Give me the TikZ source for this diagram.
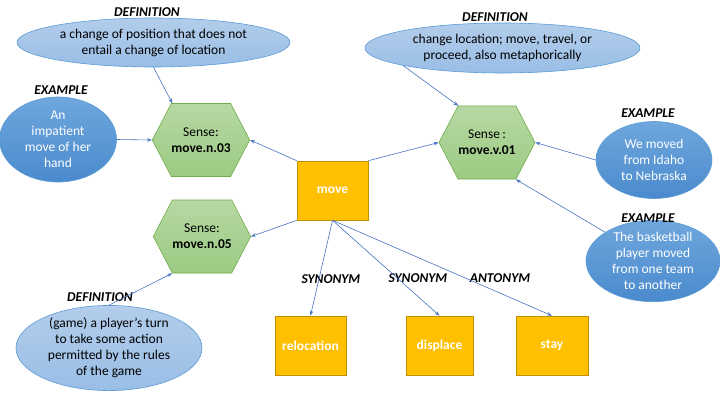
\documentclass[tikz,border=0pt]{standalone}
\usepackage{fontspec}
\setmainfont{Carlito}
\usetikzlibrary{shapes.geometric,shapes.symbols,arrows.meta}
\definecolor{arrblue}{HTML}{4472C4}
\definecolor{hexborder}{HTML}{70AD47}
\definecolor{hextop}{HTML}{B7D8A3}
\definecolor{hexbot}{HTML}{9CCB83}
\definecolor{deftop}{HTML}{B3CDEB}
\definecolor{defbot}{HTML}{99BEE6}
\definecolor{exmtop}{HTML}{6FA7DD}
\definecolor{exmbot}{HTML}{4A8ACD}
\definecolor{elborder}{HTML}{5B9BD5}
\definecolor{boxfill}{HTML}{FFC000}
\definecolor{boxborder}{HTML}{BF9000}
\tikzset{
  every node/.style={font=\fontsize{13.5}{16}\selectfont, align=center, inner sep=0pt},
  defn/.style={ellipse, draw=elborder, line width=0.6pt, top color=deftop, bottom color=defbot, text=black},
  exmp/.style={ellipse, draw=elborder, line width=0.6pt, top color=exmtop, bottom color=exmbot, text=white},
  sense/.style={signal, signal to=west and east, signal pointer angle=125, draw=hexborder, line width=0.6pt,
    top color=hextop, bottom color=hexbot, minimum width=96pt, minimum height=73pt, text=black},
  wbox/.style={rectangle, draw=boxborder, line width=0.6pt, fill=boxfill, text=white, font=\fontsize{13.5}{16}\selectfont\bfseries},
  rellabel/.style={font=\fontsize{13.5}{16}\selectfont\bfseries\itshape, text=black},
  arr/.style={draw=arrblue, line width=0.6pt, -{Stealth[length=5pt,width=3.5pt]}}
}
\begin{document}
\begin{tikzpicture}[x=1pt,y=-1pt]
\useasboundingbox (0,0) rectangle (720,405);
% central word
\node[wbox, minimum width=71pt, minimum height=59pt] (mv) at (332.5,190.5) {move};
% senses
\node[sense] (s3) at (201,140) {Sense:\\\textbf{move.n.03}};
\node[sense] (s1) at (487,142.5) {Sense\,:\\\textbf{move.v.01}};
\node[sense] (s5) at (202,236.5) {Sense:\\\textbf{move.n.05}};
% definitions
\node[defn, minimum width=273pt, minimum height=49pt] (d1) at (153.5,42.5) {a change of position that does not\\entail a change of location};
\node[defn, minimum width=275pt, minimum height=50pt] (d2) at (502.5,48) {change location; move, travel, or\\proceed, also metaphorically};
\node[defn, minimum width=186pt, minimum height=78pt] (d3) at (109,348) {(game) a player's turn\\to take some action\\permitted by the rules\\of the game};
% examples
\node[exmp, minimum width=117pt, minimum height=85pt] (e1) at (58,139.5) {An\\impatient\\move of her\\hand};
\node[exmp, minimum width=116pt, minimum height=77pt] (e2) at (654,160) {We moved\\from Idaho\\to Nebraska};
\node[exmp, minimum width=134pt, minimum height=76pt] (e3) at (653,261) {The basketball\\player moved\\from one team\\to another};
% labels
\node[rellabel] (l1) at (147,12.5) {DEFINITION};
\node[rellabel] (l2) at (495,17) {DEFINITION};
\node[rellabel] (l3) at (100,297) {DEFINITION};
\node[rellabel] (l4) at (61,90.5) {EXAMPLE};
\node[rellabel] (l5) at (648,113) {EXAMPLE};
\node[rellabel] (l6) at (648,218) {EXAMPLE};
% related words
\node[wbox, minimum width=71pt, minimum height=59pt] (rel) at (310.5,345.5) {relocation};
\node[wbox, minimum width=67pt, minimum height=59pt] (dis) at (439.5,345.5) {displace};
\node[wbox, minimum width=72pt, minimum height=59pt] (stay) at (552,345.5) {stay};
\node[rellabel] (syn1) at (331,279) {SYNONYM};
\node[rellabel] (syn2) at (418,278) {SYNONYM};
\node[rellabel] (ant) at (500,278) {ANTONYM};
% connectors
\draw[arr] (mv.north west) -- (s3.east);
\draw[arr] (mv.north east) -- (s1.west);
\draw[arr] (mv.south west) -- (s5.east);
\draw[arr] (mv.south) -- (rel.north);
\draw[arr] (mv.south) -- (dis.north);
\draw[arr] (mv.south) -- (stay.north);
\draw[arr] (d1.south) -- (s3.128.5);
\draw[arr] (e1.east) -- (s3.west);
\draw[arr] (d2.190.5) -- (s1.128.5);
\draw[arr] (e2.west) -- (s1.east);
\draw[arr] (e3.149) -- (s1.308.5);
\draw[arr] (d3.north) -- (s5.231.5);
\end{tikzpicture}
\end{document}
